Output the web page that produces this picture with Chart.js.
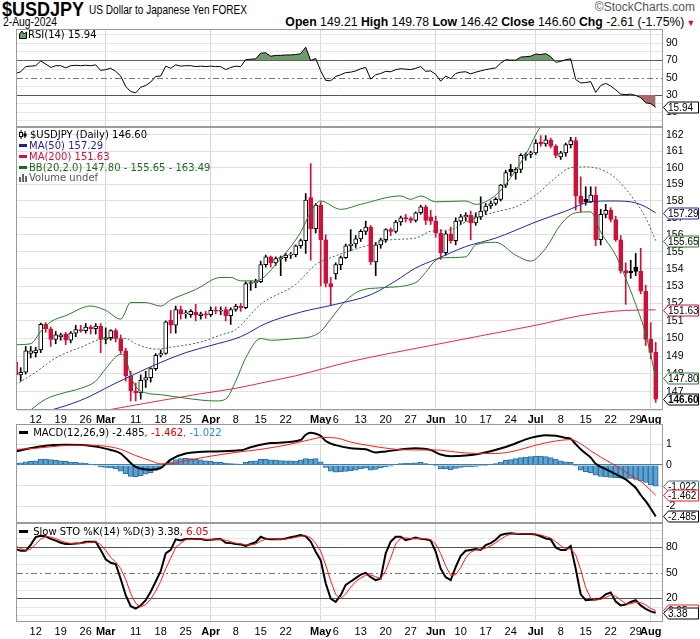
<!DOCTYPE html>
<html>
<head>
<meta charset="utf-8">
<script src="https://cdn.jsdelivr.net/npm/chart.js@4.4.1/dist/chart.umd.min.js"></script>
<style>
    body { margin: 0; background: #fff; width: 700px; height: 639px; position: relative; overflow: hidden; font-family: "DejaVu Sans", sans-serif; }
    canvas { position: absolute; left: 0; }
    .hdr { position: absolute; white-space: nowrap; font-family: "Liberation Sans", Arial, sans-serif; color: #000; }
    .lg { position: absolute; left: 19px; font-size: 10px; line-height: 11px; white-space: nowrap; }
    .dash { display: inline-block; width: 8px; height: 3px; vertical-align: middle; margin-right: 2px; position: relative; top: -1px; }
</style>
</head>
<body>
<div class="hdr" style="left:2px;top:-2px;font-size:20px;font-weight:bold;transform:scaleX(0.9);transform-origin:left top;">$USDJPY</div>
<div class="hdr" style="left:89px;top:3px;font-size:12px;transform:scaleX(0.84);transform-origin:left top;">US Dollar to Japanese Yen FOREX</div>
<div class="hdr" style="left:3px;top:15px;font-size:12px;transform:scaleX(0.86);transform-origin:left top;">2-Aug-2024</div>
<div class="hdr" style="right:5px;top:0px;font-size:12px;color:#555;">©StockCharts.com</div>
<div class="hdr" style="right:5px;top:15px;font-size:12.5px;transform:scaleX(0.98);transform-origin:right top;"><b>Open</b> 149.21 <b>High</b> 149.78 <b>Low</b> 146.42 <b>Close</b> 146.60 <b>Chg</b> -2.61 (-1.75%)<span style="color:#d0103a;font-size:9px;margin-left:2px;">&#9660;</span></div>

<canvas id="rsiChart" width="700" height="98" style="top:29px;"></canvas>
<canvas id="priceChart" width="700" height="297" style="top:127px;"></canvas>
<canvas id="macdChart" width="700" height="99" style="top:424px;"></canvas>
<canvas id="stoChart" width="700" height="116" style="top:523px;"></canvas>

<div class="lg" style="top:29px;"><svg width="8" height="9" style="vertical-align:-1px;margin-right:1px"><path d="M0.5 8.5 L0.5 4 L3 1 L5 4 L7.5 2 L7.5 8.5 Z" fill="#6f9a6c" stroke="#000" stroke-width="1"/></svg>RSI(14) 15.94</div>
<div class="lg" style="top:129px;"><svg width="9" height="9" style="vertical-align:-1px;margin-right:2px"><path d="M2 0 V9 M6 1 V8" stroke="#000"/><rect x="0.5" y="2.5" width="3" height="4" fill="#fff" stroke="#000"/><rect x="4.5" y="3.5" width="3" height="3" fill="#000"/></svg>$USDJPY (Daily) 146.60</div>
<div class="lg" style="top:140px;color:#1f1f9a;"><span class="dash" style="background:#1f1f9a"></span>MA(50) 157.29</div>
<div class="lg" style="top:151px;color:#d0103a;"><span class="dash" style="background:#d0103a"></span>MA(200) 151.63</div>
<div class="lg" style="top:162px;color:#1e6b1e;"><span class="dash" style="background:#1e6b1e"></span>BB(20,2.0) 147.80 - 155.65 - 163.49</div>
<div class="lg" style="top:172px;color:#555;"><svg width="9" height="8" style="vertical-align:-1px;margin-right:1px"><rect x="0" y="3" width="2" height="5" fill="#666"/><rect x="3" y="0" width="2" height="8" fill="#666"/><rect x="6" y="2" width="2" height="6" fill="#666"/></svg>Volume undef</div>
<div class="lg" style="top:427px;"><span class="dash" style="background:#000;width:9px"></span> MACD(12,26,9) -2.485<span style="color:#e00000">, -1.462</span><span style="color:#2a8ac8">, -1.022</span></div>
<div class="lg" style="top:526px;"><span class="dash" style="background:#000;width:9px"></span> Slow STO %K(14) %D(3) 3.38, <span style="color:#e00000">6.05</span></div>

<script>
    // day index: 0 = Mon 12-Feb-2024, first bar is Tue 6-Feb, last is Fri 2-Aug (124)
    const FIRST_DAY = -4;
    const X_MIN = -3.74;
    const X_MAX = 125.26;

    const tickDays = [0, 5, 10, 14, 20, 25, 30, 35, 40, 45, 50, 57, 60, 65, 70, 75, 80, 85, 90, 95, 100, 105, 110, 115, 120, 123];
    const tickText = ['12', '19', '26', 'Mar', '11', '18', '25', 'Apr', '8', '15', '22', 'May', '6', '13', '20', '27', 'Jun', '10', '17', '24', 'Jul', '8', '15', '22', '29', 'Aug'];
    const monthDays = [14, 35, 57, 80, 100, 123];

    const opens = [148.65, 147.95, 148.10, 149.15,
        149.20, 149.35, 150.80, 150.55, 149.95,
        150.10, 150.25, 149.90, 150.30, 150.50,
        150.45, 150.65, 150.55, 150.70, 149.95,
        150.05, 150.45, 150.00, 149.30, 147.90,
        147.05, 146.95, 147.65, 147.80, 148.30,
        149.05, 149.15, 151.05, 150.75, 151.65,
        151.40, 151.35, 151.50, 151.30, 151.40,
        151.35, 151.60, 151.55, 151.65, 151.30,
        151.65, 151.85, 151.75, 153.15, 153.20,
        153.25, 154.25, 154.70, 154.35, 154.60,
        154.65, 154.80, 154.82, 155.35, 155.65,
        158.20, 156.35, 157.75, 155.70, 153.15,
        153.70, 154.25, 154.65, 155.35, 155.45,
        155.75, 156.20, 156.45, 154.40, 155.40,
        155.70, 156.30, 156.20, 156.75, 157.00,
        156.95, 156.85, 157.30, 157.65, 157.05,
        156.80, 156.10, 154.95, 156.05, 155.65,
        156.80, 157.05, 157.15, 156.70, 157.05,
        157.40, 157.70, 157.85, 158.10, 158.95,
        159.90, 159.70, 159.90, 160.75, 160.80,
        160.90, 161.55, 161.45, 161.70, 161.30,
        160.65, 160.90, 161.40, 161.65, 158.30,
        158.10, 157.95, 158.35, 155.70, 157.20,
        157.45, 156.90, 155.70, 153.90, 153.85,
        154.10, 153.85, 152.70, 149.95, 149.21];
    const highs = [148.85, 148.35, 149.55, 149.55,
        149.50, 150.88, 150.90, 150.65, 150.40,
        150.30, 150.35, 150.40, 150.75, 150.75,
        150.85, 150.75, 150.85, 150.85, 150.60,
        150.50, 150.55, 150.20, 149.45, 148.15,
        147.50, 147.95, 148.15, 148.35, 149.15,
        149.35, 151.00, 151.60, 151.85, 151.85,
        151.60, 151.65, 151.95, 151.50, 151.55,
        151.80, 151.80, 151.80, 151.80, 151.75,
        151.95, 152.00, 153.25, 153.30, 153.40,
        154.45, 154.80, 154.75, 154.70, 154.75,
        154.90, 154.95, 155.40, 155.75, 158.45,
        160.25, 157.85, 157.95, 156.00, 153.50,
        154.35, 154.75, 155.45, 156.30, 155.95,
        156.30, 156.80, 156.55, 155.55, 155.80,
        156.35, 156.40, 156.85, 157.10, 157.20,
        157.05, 157.35, 157.75, 157.75, 157.45,
        157.10, 156.30, 156.20, 156.45, 157.00,
        157.20, 157.30, 157.40, 157.30, 158.25,
        157.85, 158.00, 158.20, 159.00, 159.85,
        160.20, 160.00, 160.85, 160.90, 161.00,
        161.70, 161.95, 161.95, 161.80, 161.40,
        161.00, 161.50, 161.85, 161.85, 159.45,
        158.85, 158.85, 158.85, 157.50, 157.80,
        157.60, 157.10, 155.95, 154.35, 154.50,
        154.90, 155.20, 153.05, 150.90, 149.78];
    const lows = [147.85, 147.60, 148.00, 148.90,
        148.95, 149.20, 150.35, 149.55, 149.70,
        149.90, 149.65, 149.75, 150.10, 150.35,
        150.30, 150.25, 150.25, 149.20, 149.70,
        149.90, 149.80, 149.15, 147.60, 146.50,
        146.50, 146.60, 147.25, 147.55, 148.20,
        148.95, 149.10, 150.30, 150.30, 151.10,
        151.15, 151.20, 151.00, 151.10, 151.15,
        151.25, 151.40, 151.35, 151.00, 150.80,
        151.55, 151.55, 151.70, 152.75, 152.90,
        153.20, 154.10, 154.10, 154.20, 153.60,
        154.45, 154.60, 154.70, 155.20, 154.90,
        154.50, 156.10, 153.00, 152.95, 151.90,
        153.40, 153.95, 154.60, 155.05, 155.25,
        155.60, 156.00, 154.25, 153.60, 155.20,
        155.55, 155.95, 156.10, 156.55, 156.75,
        156.70, 156.75, 157.20, 156.60, 156.60,
        155.85, 154.55, 154.80, 155.50, 155.40,
        156.60, 156.80, 155.70, 156.55, 156.90,
        157.20, 157.55, 157.75, 158.00, 158.80,
        159.50, 159.30, 159.70, 160.45, 160.60,
        160.80, 161.30, 161.30, 161.20, 160.60,
        160.50, 160.70, 161.20, 157.45, 157.35,
        157.75, 157.90, 155.35, 155.40, 157.00,
        156.75, 155.60, 153.75, 151.95, 153.45,
        153.60, 152.55, 149.60, 148.85, 146.42];
    const closes = [147.95, 148.10, 149.30, 149.30,
        149.35, 150.80, 150.55, 149.95, 150.20,
        150.20, 149.90, 150.30, 150.50, 150.45,
        150.65, 150.55, 150.70, 149.95, 150.05,
        150.45, 150.00, 149.30, 147.90, 147.05,
        146.95, 147.65, 147.80, 148.30, 149.05,
        149.15, 150.95, 150.75, 151.65, 151.40,
        151.45, 151.55, 151.35, 151.40, 151.35,
        151.60, 151.55, 151.60, 151.30, 151.65,
        151.85, 151.75, 153.15, 153.20, 153.25,
        154.25, 154.70, 154.35, 154.60, 154.65,
        154.80, 154.82, 155.35, 155.65, 158.05,
        156.35, 157.75, 155.70, 153.15, 152.95,
        154.25, 154.65, 155.35, 155.45, 155.75,
        156.20, 156.45, 154.40, 155.40, 155.70,
        156.30, 156.20, 156.75, 157.00, 156.95,
        156.85, 157.30, 157.65, 156.85, 156.80,
        156.10, 154.95, 156.05, 155.65, 156.80,
        157.05, 157.15, 156.70, 157.05, 157.40,
        157.70, 157.85, 158.10, 158.95, 159.70,
        159.75, 159.90, 160.75, 160.80, 160.90,
        161.50, 161.45, 161.70, 161.30, 160.75,
        160.90, 161.40, 161.65, 158.30, 157.85,
        157.95, 158.35, 155.70, 157.20, 157.45,
        156.90, 155.70, 153.90, 153.75, 153.78,
        153.85, 152.70, 149.95, 149.21, 146.60];

    // overlays read at turning points: [day, value]
    const ma50 = [[-4, 145.5], [5, 146.15], [10, 146.65], [15, 147.35], [21, 148.15], [25, 148.65], [30, 149.2], [35, 149.6],
        [41, 150.1], [46, 150.85], [53, 151.5], [60, 151.95], [67, 152.5], [72, 153.3], [76, 154.05], [80, 154.55],
        [86, 155.3], [92, 155.8], [100, 156.75], [106, 157.4], [111, 157.95], [115, 158.0], [119, 157.95], [122, 157.65], [124, 157.29]];
    const ma200 = [[-4, 145.1], [17, 146.13], [33, 146.9], [40, 147.2], [46, 147.55], [52, 147.9], [63, 148.7], [79, 149.6],
        [89, 150.15], [100, 150.75], [109, 151.3], [118, 151.6], [124, 151.63]];
    const bbUpper = [[-4, 149.65], [-1, 149.7], [1, 150.4], [3, 150.95], [6, 151.3], [11, 151.85], [14, 151.6], [17, 151.1],
        [19, 152.05], [22, 152.05], [25, 151.85], [27, 152.2], [32, 152.8], [37, 153.5], [39, 153.5], [41, 153.3], [44, 153.3],
        [49, 154.6], [53, 156.15], [55, 157.35], [57, 158.0], [61, 157.5], [65, 157.8], [73, 158.3], [75, 158.1], [77, 158.3],
        [80, 157.95], [86, 158.0], [88, 157.8], [92, 158.35], [95, 159.4], [98, 160.8], [101, 162.5], [104, 163.1], [110, 163.4],
        [118, 163.6], [124, 163.49]];
    const bbMiddle = [[-4, 147.4], [0, 148.1], [4, 148.9], [9, 149.5], [14, 150.0], [18, 150.0], [20, 149.7], [24, 149.4],
        [27, 149.5], [33, 149.8], [37, 150.2], [40, 150.5], [45, 151.95], [52, 153.1], [56, 154.25], [59, 154.65], [65, 155.25],
        [71, 155.7], [76, 155.8], [79, 156.2], [83, 156.3], [86, 156.75], [92, 157.35], [96, 157.65], [100, 158.35], [104, 159.4],
        [107, 160.0], [110, 160.05], [115, 159.6], [119, 158.35], [122, 157.0], [124, 155.65]];
    const bbLower = [[-4, 145.3], [-1, 146.0], [2, 146.6], [5, 146.9], [9, 147.2], [12, 147.6], [14, 148.3], [17, 149.1],
        [18, 148.9], [19, 147.9], [20, 147.3], [22, 146.95], [25, 146.85], [30, 146.65], [36, 146.5], [38, 146.6], [40, 147.6],
        [42, 148.9], [45, 150.0], [47, 149.9], [52, 150.0], [55, 150.1], [57, 150.4], [59, 151.1], [62, 152.15], [65, 152.75],
        [69, 152.9], [76, 153.2], [78, 153.8], [80, 154.5], [82, 154.65], [86, 154.7], [88, 155.4], [92, 155.55], [96, 154.8],
        [99, 154.45], [102, 155.2], [105, 156.6], [108, 157.3], [111, 157.35], [113, 156.15], [116, 154.8], [118, 153.45],
        [120, 151.95], [122, 150.25], [124, 147.80]];

    const rsi = [55, 57, 63, 63.5,
        64, 69.5, 66, 62, 64,
        64, 61.5, 64, 64.5, 64,
        64.5, 64, 65, 58.5, 59.5,
        61, 57.5, 52, 40, 34,
        32.5, 39, 41, 45, 51.5,
        52, 63.5, 61, 65, 63.5,
        64, 64, 63, 63.5, 63,
        63.5, 63, 63, 59.5, 62,
        63.5, 63, 71, 71.5, 72,
        78.5, 79, 75, 76, 76,
        76.5, 76.5, 77, 78, 85.5,
        70, 72.5, 58, 47, 46.5,
        51.5, 53.5, 56, 56.5, 58,
        60.5, 62, 48.5, 53.5, 55,
        57.5, 57, 59.5, 60.5, 60,
        59.5, 61, 63, 57.5, 58,
        54, 46, 52, 49, 55,
        56.5, 57, 54.5, 56.5, 58,
        59.5, 60.5, 61.5, 67, 71,
        70.5, 70.5, 74, 74.5, 75,
        77.5, 77, 78, 74.5, 68,
        69, 71, 72, 48, 44,
        44.5, 45.5, 33, 41, 43.5,
        40.5, 36, 31, 30.5, 31,
        29.5, 27, 21, 20, 15.94];

    const macdLine = [[-4, 0.65], [0, 0.85], [3, 0.95], [6, 0.97], [10, 0.95], [12, 0.88], [15, 0.72], [17, 0.55], [18, 0.33],
        [20, -0.1], [23, -0.24], [25, -0.15], [27, 0.25], [30, 0.55], [36, 0.65], [41, 0.7], [43, 0.85], [47, 1.05], [53, 1.2],
        [54, 1.45], [55, 1.55], [56, 1.5], [57, 1.4], [58, 1.15], [60, 0.95], [63, 0.8], [66, 0.75], [68, 0.6], [70, 0.65],
        [76, 0.8], [79, 0.72], [81, 0.5], [83, 0.42], [86, 0.45], [89, 0.55], [94, 0.86], [99, 1.3], [102, 1.43], [104, 1.4],
        [106, 1.3], [107, 1.25], [108, 1.0], [109, 0.75], [110, 0.55], [111, 0.35], [112, 0.05], [114, -0.2], [116, -0.45],
        [118, -0.7], [119, -0.9], [120, -1.1], [121, -1.45], [122, -1.75], [123, -2.1], [124, -2.485]];
    const macdSignal = [[-4, 0.75], [0, 0.8], [5, 0.92], [10, 0.95], [14, 0.9], [17, 0.75], [20, 0.45], [23, 0.2], [25, 0.05],
        [27, 0.05], [30, 0.2], [35, 0.42], [40, 0.6], [45, 0.75], [50, 0.95], [55, 1.22], [57, 1.32], [60, 1.3], [63, 1.1],
        [67, 0.92], [72, 0.75], [76, 0.72], [80, 0.72], [84, 0.62], [88, 0.55], [92, 0.55], [96, 0.68], [100, 0.95], [104, 1.15],
        [107, 1.22], [109, 1.02], [111, 0.68], [113, 0.38], [115, 0.1], [117, -0.2], [119, -0.5], [121, -0.8], [122, -1.0],
        [124, -1.462]];
    const macdHist = [0.08, 0.1, 0.15, 0.17,
        0.2, 0.27, 0.28, 0.25, 0.22,
        0.2, 0.17, 0.14, 0.12, 0.1,
        0.07, 0.04, -0.03, -0.1, -0.12,
        -0.15, -0.2, -0.3, -0.42, -0.55,
        -0.57, -0.52, -0.45, -0.38, -0.25,
        -0.12, 0.05, 0.15, 0.25, 0.3,
        0.32, 0.3, 0.27, 0.24, 0.2,
        0.17, 0.14, 0.12, 0.08, 0.06,
        0.05, 0.04, 0.12, 0.17, 0.2,
        0.27, 0.28, 0.24, 0.23, 0.21,
        0.2, 0.2, 0.18, 0.24, 0.3,
        0.28, 0.3, 0.15, -0.12, -0.3,
        -0.35, -0.34, -0.32, -0.28, -0.25,
        -0.2, -0.16, -0.25, -0.22, -0.15,
        -0.1, -0.06, 0.02, 0.06, 0.08,
        0.08, 0.1, 0.12, 0.06, 0.03,
        -0.05, -0.2, -0.2, -0.24, -0.17,
        -0.12, -0.1, -0.1, -0.07, -0.04,
        -0.02, 0.02, 0.06, 0.14, 0.22,
        0.25, 0.3, 0.35, 0.38, 0.4,
        0.42, 0.42, 0.4, 0.35, 0.28,
        0.2, 0.15, 0.12, -0.05, -0.25,
        -0.33, -0.38, -0.5, -0.55, -0.58,
        -0.6, -0.62, -0.64, -0.65, -0.65,
        -0.7, -0.77, -0.85, -0.95, -1.022];

    const stoK = [78, 76, 76, 83,
        92, 93.5, 93, 90, 88,
        85.5, 84, 84, 84.5, 85,
        86.5, 86.5, 86.5, 77, 66,
        62, 60.5, 43, 24, 11,
        8.3, 12, 18, 28, 40,
        52, 73, 77, 89.4, 88,
        89.8, 89.8, 89.8, 89.8, 88.6,
        89, 89.5, 89.8, 85.5, 85,
        84, 83.5, 81.6, 84, 86,
        92.5, 90, 89.4, 89.4, 89.4,
        90.5, 91.8, 93, 94.5, 93,
        86.7, 75, 65, 38, 20,
        16, 24, 36, 40, 44,
        48, 50.2, 45, 41.6, 43.5,
        73, 86.7, 92.5, 92.5, 88.6,
        90, 91.5, 90, 89.4, 88,
        75, 55, 45, 41.6, 57,
        70, 76, 77, 78, 77,
        82.7, 85, 89, 94.5, 96,
        96.5, 96, 95.7, 95.7, 95.7,
        95, 93, 90.5, 89.4, 80,
        76.9, 77, 81.6, 55, 25,
        18, 18.5, 18.8, 20, 25,
        27, 16.5, 12, 13, 16,
        18, 12, 8, 5, 3.38];
    const stoD = [82, 78.5, 76.5, 78,
        84, 89.5, 92.8, 92, 90.3,
        87.8, 85.8, 84.5, 84.2, 84.5,
        85.3, 86, 86.5, 83.3, 76.5,
        68.3, 62.8, 55.2, 42.5, 26,
        14.4, 10.4, 12.8, 19.3, 28.7,
        40, 55, 67.3, 79.8, 84.8,
        89, 89.2, 89.8, 89.8, 89.4,
        89.1, 89, 89.4, 88.3, 86.8,
        84.8, 84.2, 83, 83, 83.9,
        87.5, 89.5, 90.6, 89.6, 89.4,
        89.8, 90.6, 91.8, 93.1, 93.5,
        91.4, 84.9, 75.6, 59.3, 41,
        24.7, 20, 25.3, 33.3, 40,
        44, 47.4, 47.7, 45.6, 43.4,
        52.7, 67.7, 84.1, 90.6, 91.2,
        90.4, 90, 90.5, 90.3, 89.1,
        84.1, 72.7, 58.3, 47.2, 47.9,
        56.2, 67.7, 74.3, 77, 77.3,
        79.2, 81.6, 85.6, 89.5, 93.2,
        95.7, 96.2, 96.1, 95.8, 95.7,
        95.5, 94.6, 92.8, 91, 86.6,
        82.1, 78, 78.5, 71.2, 53.9,
        32.7, 20.5, 18.4, 19.1, 21.3,
        24, 22.8, 18.5, 13.8, 13.7,
        15.7, 15.3, 12.7, 8.3, 6.05];

    const priceTicks = [146, 147, 148, 149, 150, 151, 152, 153, 154, 155, 156, 157, 158, 159, 160, 161, 162];
    const oscTicks = [0, 10, 20, 30, 40, 50, 60, 70, 80, 90, 100];
    const macdTicks = [-2, -1, 0, 1];

    const RED = '#d0103a';
    const FONT = 'Liberation Sans';

    const daily = arr => arr.map((y, k) => ({ x: k + FIRST_DAY, y: y }));
    const pairs = arr => arr.map(p => ({ x: p[0], y: p[1] }));
    const last = arr => { const v = arr[arr.length - 1]; return Array.isArray(v) ? v[1] : v; };

    function candleColor(k) {
        const prev = k > 0 ? closes[k - 1] : opens[k];
        return closes[k] < prev ? RED : '#000';
    }

    function xAxis(showLabels, height) {
        return {
            type: 'linear',
            min: X_MIN,
            max: X_MAX,
            offset: false,
            afterBuildTicks: s => { s.ticks = tickDays.map(v => ({ value: v })); },
            afterFit: s => { s.height = showLabels ? height : 0; s.paddingLeft = 0; s.paddingRight = 0; },
            border: { display: false },
            grid: {
                offset: false,
                drawTicks: false,
                color: c => (c.tick && monthDays.includes(c.tick.value)) ? '#d6d6d6' : 'rgba(0,0,0,0)'
            },
            ticks: {
                display: showLabels,
                autoSkip: false,
                maxRotation: 0,
                padding: 3,
                color: '#000',
                font: c => ({ family: FONT, size: 11, weight: (c.tick && monthDays.includes(c.tick.value)) ? 'bold' : 'normal' }),
                callback: v => tickText[tickDays.indexOf(v)]
            }
        };
    }

    function yAxis(extra) {
        return Object.assign({
            position: 'right',
            afterFit: s => { s.width = 38; s.paddingTop = 0; s.paddingBottom = 0; },
            border: { display: false }
        }, extra);
    }

    function yTicks(labels) {
        return { autoSkip: false, padding: 4, color: '#000', font: { family: FONT, size: 10.5 }, callback: labels };
    }

    const baseOptions = () => ({
        responsive: false,
        animation: false,
        events: [],
        layout: { padding: { left: 17, right: 0, top: 0, bottom: 0 } },
        plugins: { legend: { display: false }, tooltip: { enabled: false } }
    });

    const framePlugin = {
        id: 'frame',
        afterDraw(chart) {
            const { ctx, chartArea: a } = chart;
            ctx.save();
            ctx.strokeStyle = '#9a9a9a';
            ctx.lineWidth = 1;
            ctx.strokeRect(a.left - 0.5, a.top + 0.5, a.right - a.left + 1, a.bottom - a.top - 1);
            ctx.restore();
        }
    };

    function guidePlugin(values) {
        return {
            id: 'guide',
            beforeDatasetsDraw(chart) {
                const { ctx, chartArea: a, scales } = chart;
                ctx.save();
                ctx.strokeStyle = '#777';
                ctx.lineWidth = 1;
                ctx.setLineDash([6, 3, 2, 3]);
                values.forEach(v => {
                    const py = Math.round(scales.y.getPixelForValue(v)) + 0.5;
                    ctx.beginPath();
                    ctx.moveTo(a.left, py);
                    ctx.lineTo(a.right, py);
                    ctx.stroke();
                });
                ctx.restore();
            }
        };
    }

    // arrow-shaped value tags on the right axis
    function tagPlugin(tags) {
        return {
            id: 'tags',
            afterDraw(chart) {
                const { ctx, chartArea: a, scales } = chart;
                ctx.save();
                tags.forEach(t => {
                    const y = Math.round(scales.y.getPixelForValue(t.value)) + 0.5;
                    const x0 = a.right + 1.5;
                    ctx.beginPath();
                    ctx.moveTo(x0, y);
                    ctx.lineTo(x0 + 5, y - 5.5);
                    ctx.lineTo(x0 + 35, y - 5.5);
                    ctx.lineTo(x0 + 35, y + 5.5);
                    ctx.lineTo(x0 + 5, y + 5.5);
                    ctx.closePath();
                    ctx.fillStyle = '#fff';
                    ctx.fill();
                    ctx.strokeStyle = t.color;
                    ctx.lineWidth = 1;
                    ctx.stroke();
                    ctx.fillStyle = '#000';
                    ctx.font = (t.bold ? 'bold ' : '') + '10px "' + FONT + '"';
                    ctx.textAlign = 'left';
                    ctx.textBaseline = 'middle';
                    ctx.fillText(t.text, x0 + 4.5, y + 0.5);
                });
                ctx.restore();
            }
        };
    }

    function line(data, color, width, extra) {
        return Object.assign({
            type: 'line', data: data, borderColor: color, borderWidth: width,
            pointRadius: 0, fill: false, tension: 0, order: 0
        }, extra);
    }
    const smooth = { cubicInterpolationMode: 'monotone' };

    // RSI panel
    const rsiPts = daily(rsi);
    new Chart(document.getElementById('rsiChart'), {
        type: 'line',
        data: {
            datasets: [
                line(rsiPts, '#000', 1, { fill: { target: { value: 70 }, above: '#6f9a6c', below: 'rgba(0,0,0,0)' } }),
                line(rsiPts, 'rgba(0,0,0,0)', 0, { fill: { target: { value: 30 }, above: 'rgba(0,0,0,0)', below: '#a86b6b' }, order: 1 })
            ]
        },
        options: Object.assign(baseOptions(), {
            scales: {
                x: xAxis(false, 0),
                y: yAxis({
                    min: -7.1, max: 106.6,
                    afterBuildTicks: s => { s.ticks = oscTicks.map(v => ({ value: v })); },
                    grid: { drawTicks: false, color: c => (c.tick.value === 70 || c.tick.value === 30) ? '#555' : (c.tick.value === 50 ? 'rgba(0,0,0,0)' : '#e6e6e6') },
                    ticks: yTicks(v => [90, 70, 50, 30, 10].includes(v) ? String(v) : '')
                })
            }
        }),
        plugins: [guidePlugin([50]), framePlugin, tagPlugin([{ value: last(rsi), color: '#000', text: last(rsi).toFixed(2) }])]
    });

    // price panel
    const days = opens.map((_, k) => k + FIRST_DAY);
    new Chart(document.getElementById('priceChart'), {
        type: 'bar',
        data: {
            datasets: [
                line(pairs(bbUpper), '#2a7a2a', 1, smooth),
                line(pairs(bbMiddle), '#2a7a2a', 1, Object.assign({ borderDash: [2, 2] }, smooth)),
                line(pairs(bbLower), '#2a7a2a', 1, smooth),
                line(pairs(ma50), '#2323a0', 1, smooth),
                line(pairs(ma200), '#dc2a55', 1, smooth),
                {
                    type: 'bar', order: 2, grouped: false, barThickness: 4, minBarLength: 1, borderSkipped: false,
                    data: days.map((x, k) => ({ x: x, y: [Math.min(opens[k], closes[k]), Math.max(opens[k], closes[k])] })),
                    backgroundColor: days.map((x, k) => closes[k] < opens[k] ? candleColor(k) : '#fff'),
                    borderColor: days.map((x, k) => candleColor(k)),
                    borderWidth: 1
                },
                {
                    type: 'bar', order: 3, grouped: false, barThickness: 1, borderWidth: 0,
                    data: days.map((x, k) => ({ x: x, y: [lows[k], highs[k]] })),
                    backgroundColor: days.map((x, k) => candleColor(k))
                }
            ]
        },
        options: Object.assign(baseOptions(), {
            scales: {
                x: xAxis(true, 14),
                y: yAxis({
                    type: 'logarithmic',
                    min: 146.0, max: 162.48,
                    afterBuildTicks: s => { s.ticks = priceTicks.map(v => ({ value: v })); },
                    grid: { drawTicks: false, color: '#e0e0e0' },
                    ticks: yTicks(v => v === 146 ? '' : String(v))
                })
            }
        }),
        plugins: [framePlugin, tagPlugin([
            { value: last(ma50), color: '#2323a0', text: last(ma50).toFixed(2) },
            { value: last(bbMiddle), color: '#2a7a2a', text: last(bbMiddle).toFixed(2) },
            { value: last(ma200), color: RED, text: last(ma200).toFixed(2) },
            { value: last(bbLower), color: '#2a7a2a', text: last(bbLower).toFixed(2) },
            { value: last(closes), color: '#000', text: last(closes).toFixed(2), bold: true }
        ])]
    });

    // MACD panel
    new Chart(document.getElementById('macdChart'), {
        type: 'bar',
        data: {
            datasets: [
                line(pairs(macdSignal), '#ff1a1a', 1, Object.assign({ order: 0 }, smooth)),
                line(pairs(macdLine), '#000', 2, Object.assign({ order: 1 }, smooth)),
                {
                    type: 'bar', order: 2, grouped: false, barThickness: 5,
                    data: daily(macdHist),
                    backgroundColor: '#5aa3d2', borderColor: '#2f6f9c', borderWidth: 1
                }
            ]
        },
        options: Object.assign(baseOptions(), {
            scales: {
                x: xAxis(false, 0),
                y: yAxis({
                    min: -2.8, max: 1.97,
                    afterBuildTicks: s => { s.ticks = macdTicks.map(v => ({ value: v })); },
                    grid: { drawTicks: false, color: c => c.tick.value === 0 ? '#3f7fa8' : '#e0e0e0' },
                    ticks: yTicks(v => String(v))
                })
            }
        }),
        plugins: [framePlugin, tagPlugin([
            { value: last(macdHist), color: '#2f6f9c', text: last(macdHist).toFixed(3) },
            { value: last(macdSignal), color: '#ff1a1a', text: last(macdSignal).toFixed(3) },
            { value: last(macdLine), color: '#000', text: last(macdLine).toFixed(3) }
        ])]
    });

    // slow stochastic panel
    new Chart(document.getElementById('stoChart'), {
        type: 'line',
        data: {
            datasets: [
                line(daily(stoD), '#ff1a1a', 1, { order: 0 }),
                line(daily(stoK), '#000', 2, { order: 1 })
            ]
        },
        options: Object.assign(baseOptions(), {
            scales: {
                x: xAxis(true, 17),
                y: yAxis({
                    min: -7.5, max: 108.6,
                    afterBuildTicks: s => { s.ticks = oscTicks.map(v => ({ value: v })); },
                    grid: { drawTicks: false, color: c => (c.tick.value === 80 || c.tick.value === 20) ? '#555' : (c.tick.value === 50 ? 'rgba(0,0,0,0)' : '#e6e6e6') },
                    ticks: yTicks(v => [80, 50, 20].includes(v) ? String(v) : '')
                })
            }
        }),
        plugins: [guidePlugin([50]), framePlugin, tagPlugin([
            { value: last(stoD), color: '#ff1a1a', text: last(stoD).toFixed(2) },
            { value: last(stoK), color: '#000', text: last(stoK).toFixed(2) }
        ])]
    });
</script>
</body>
</html>
